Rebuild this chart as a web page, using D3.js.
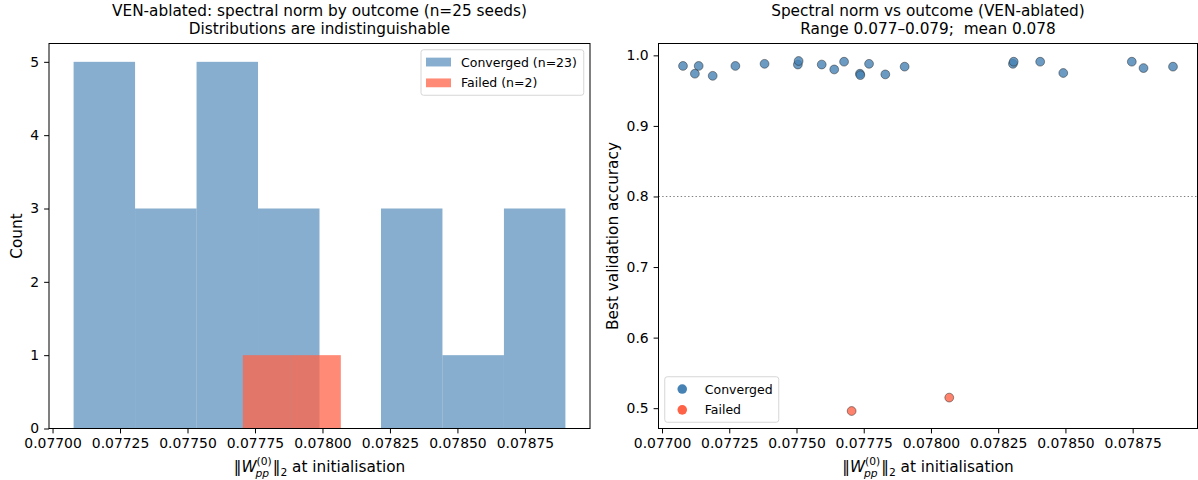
<!DOCTYPE html>
<html>
<head>
<meta charset="utf-8">
<script src="https://cdn.jsdelivr.net/npm/d3@7"></script>
<style>
  body { margin: 0; background: #fff; }
  text { font-family: "DejaVu Sans", sans-serif; fill: #000; }
</style>
</head>
<body>
<div id="chart"></div>
<script>
// 1. DATA
const convergedNorm = [0.077078, 0.0771222, 0.0771363, 0.0771884, 0.0772728, 0.0773812, 0.0775051, 0.0775079,
    0.0775938, 0.0776403, 0.0776769, 0.0777360, 0.0777374, 0.0777698, 0.0778303, 0.0779021,
    0.0783048, 0.0783076, 0.0784061, 0.0784920, 0.0787468, 0.0787904, 0.0789000];
const convergedAcc = [0.985, 0.974, 0.985, 0.971, 0.985, 0.988, 0.987, 0.992, 0.987, 0.980, 0.991, 0.974,
    0.972, 0.988, 0.973, 0.984, 0.988, 0.991, 0.991, 0.975, 0.991, 0.982, 0.984];
const failedNorm = [0.077705, 0.078068];
const failedAcc = [0.496, 0.515];

const xTicks = [0.07700, 0.07725, 0.07750, 0.07775, 0.07800, 0.07825, 0.07850, 0.07875];
const countTicks = [0, 1, 2, 3, 4, 5];
const accTicks = [0.5, 0.6, 0.7, 0.8, 0.9, 1.0];
const threshold = 0.8;
const convBins = 8;
const failBins = 2;

const W = 1198, H = 480;
const blue = "steelblue", red = "tomato";

const svg = d3.select("#chart").append("svg").attr("width", W).attr("height", H);

// shared x domain: full data extent + 5% padding (like matplotlib)
const allNorm = convergedNorm.concat(failedNorm);
const [lo, hi] = d3.extent(allNorm);
const pad = (hi - lo) * 0.05;
const xDomain = [lo - pad, hi + pad];

function makeBins(values, n) {
    const [a, b] = d3.extent(values);
    const edges = d3.range(1, n).map(i => a + i * (b - a) / n);
    return d3.bin().domain([a, b]).thresholds(edges)(values);
}

function drawFrame(g, x0, y0, x1, y1) {
    g.append("rect")
        .attr("x", x0).attr("y", y0)
        .attr("width", x1 - x0).attr("height", y1 - y0)
        .attr("fill", "none").attr("stroke", "#000").attr("stroke-width", 1);
}

function styleAxis(sel) {
    sel.select(".domain").remove();
    sel.selectAll(".tick line").attr("stroke", "#000").attr("stroke-width", 1);
    sel.selectAll(".tick text").style("font-size", "13.9px").attr("fill", "#000");
}

function drawTitle(cx, lines) {
    lines.forEach((t, i) => {
        svg.append("text")
            .attr("x", cx).attr("y", 16 + i * 18.3)
            .attr("text-anchor", "middle")
            .style("font-size", "15.3px")
            .style("white-space", "pre")
            .text(t);
    });
}

function drawYLabel(x, cy, label) {
    svg.append("text")
        .attr("transform", `translate(${x},${cy}) rotate(-90)`)
        .attr("text-anchor", "middle")
        .style("font-size", "15.3px")
        .text(label);
}

// ||W_pp^(0)||_2 at initialisation -- pieces placed side by side
function drawNormLabel(cx, y) {
    const fs = 15.3, small = fs * 0.7;
    const g = svg.append("g");
    const piece = (str, size, italic, dy) => g.append("text")
        .attr("y", y + dy)
        .style("font-size", size + "px")
        .style("font-style", italic ? "italic" : "normal")
        .style("white-space", "pre")
        .text(str);

    const head = piece("\u2016", fs, false, 0);
    const w = piece("W", fs, true, 0);
    const sup = piece("(0)", small, false, -7);
    const sub = piece("pp", small, true, 5);
    const bar = piece("\u2016", fs, false, 0);
    const two = piece("2", small, false, 3.5);
    const tail = piece(" at initialisation", fs, false, 0);

    const len = t => t.node().getComputedTextLength();
    let x = 0;
    head.attr("x", x); x += len(head);
    w.attr("x", x); x += len(w);
    sup.attr("x", x);
    sub.attr("x", x - 1);
    x += Math.max(len(sup), len(sub) - 1) + 1;
    bar.attr("x", x); x += len(bar);
    two.attr("x", x); x += len(two);
    tail.attr("x", x); x += len(tail);
    g.attr("transform", `translate(${cx - x / 2},0)`);
}

function drawLegend(x, y, w, items) {
    const lg = svg.append("g").attr("transform", `translate(${x},${y})`);
    lg.append("rect").attr("width", w).attr("height", 45.5).attr("rx", 2.5)
        .attr("fill", "#fff").attr("fill-opacity", 0.8)
        .attr("stroke", "#d6d6d6").attr("stroke-width", 1);
    items.forEach((it, i) => {
        const cy = 12.3 + i * 20.8;
        if (it.kind === "patch") {
            lg.append("rect").attr("x", 5).attr("y", cy - 4.4).attr("width", 25).attr("height", 8.8)
                .attr("fill", it.color).attr("fill-opacity", it.alpha);
        } else {
            lg.append("circle").attr("cx", 17.5).attr("cy", cy).attr("r", 4.8).attr("fill", it.color);
        }
        lg.append("text").attr("x", 40).attr("y", cy + 4.5)
            .style("font-size", "12.5px").text(it.label);
    });
}

// --- LEFT: histogram ---
const L = { x0: 49, x1: 590, y0: 43.5, y1: 428.5 };
const xL = d3.scaleLinear().domain(xDomain).range([L.x0, L.x1]);
const yL = d3.scaleLinear().domain([0, 5.25]).range([L.y1, L.y0]);
const gL = svg.append("g");

const convHist = makeBins(convergedNorm, convBins);
const failHist = makeBins(failedNorm, failBins);

gL.selectAll("rect.conv").data(convHist).join("rect")
    .attr("class", "conv")
    .attr("x", d => xL(d.x0)).attr("width", d => xL(d.x1) - xL(d.x0))
    .attr("y", d => yL(d.length)).attr("height", d => yL(0) - yL(d.length))
    .attr("fill", blue).attr("fill-opacity", 0.65);

gL.selectAll("rect.fail").data(failHist).join("rect")
    .attr("class", "fail")
    .attr("x", d => xL(d.x0)).attr("width", d => xL(d.x1) - xL(d.x0))
    .attr("y", d => yL(d.length)).attr("height", d => yL(0) - yL(d.length))
    .attr("fill", red).attr("fill-opacity", 0.75);

gL.append("g").attr("transform", `translate(0,${L.y1})`)
    .call(d3.axisBottom(xL).tickValues(xTicks).tickFormat(d3.format(".5f")).tickSize(4.9).tickPadding(4.6))
    .call(styleAxis);
gL.append("g").attr("transform", `translate(${L.x0},0)`)
    .call(d3.axisLeft(yL).tickValues(countTicks).tickFormat(d3.format("d")).tickSize(4.9).tickPadding(4.9))
    .call(styleAxis);
drawFrame(gL, L.x0, L.y0, L.x1, L.y1);

drawTitle((L.x0 + L.x1) / 2, [
    `VEN-ablated: spectral norm by outcome (n=${allNorm.length} seeds)`,
    "Distributions are indistinguishable"
]);
drawYLabel(22, (L.y0 + L.y1) / 2, "Count");
drawNormLabel((L.x0 + L.x1) / 2, 472);
drawLegend(421, 49.75, 162.75, [
    { kind: "patch", color: blue, alpha: 0.65, label: `Converged (n=${convergedNorm.length})` },
    { kind: "patch", color: red, alpha: 0.75, label: `Failed (n=${failedNorm.length})` }
]);

// --- RIGHT: scatter ---
const R = { x0: 658.5, x1: 1197.5, y0: 43.5, y1: 428.5 };
const allAcc = convergedAcc.concat(failedAcc);
const [aLo, aHi] = d3.extent(allAcc);
const aPad = (aHi - aLo) * 0.05;
const xR = d3.scaleLinear().domain(xDomain).range([R.x0, R.x1]);
const yR = d3.scaleLinear().domain([aLo - aPad, aHi + aPad]).range([R.y1, R.y0]);
const gR = svg.append("g");

gR.append("line")
    .attr("x1", R.x0).attr("x2", R.x1)
    .attr("y1", yR(threshold)).attr("y2", yR(threshold))
    .attr("stroke", "gray").attr("stroke-width", 1.2).attr("stroke-dasharray", "1.4,2.3");

const pts = convergedNorm.map((v, i) => ({ x: v, y: convergedAcc[i], c: blue }))
    .concat(failedNorm.map((v, i) => ({ x: v, y: failedAcc[i], c: red })));

gR.selectAll("circle.pt").data(pts).join("circle")
    .attr("class", "pt")
    .attr("cx", d => xR(d.x)).attr("cy", d => yR(d.y)).attr("r", 4.4)
    .attr("fill", d => d.c).attr("fill-opacity", 0.8)
    .attr("stroke", "#222").attr("stroke-opacity", 0.8).attr("stroke-width", 0.6);

gR.append("g").attr("transform", `translate(0,${R.y1})`)
    .call(d3.axisBottom(xR).tickValues(xTicks).tickFormat(d3.format(".5f")).tickSize(4.9).tickPadding(4.6))
    .call(styleAxis);
gR.append("g").attr("transform", `translate(${R.x0},0)`)
    .call(d3.axisLeft(yR).tickValues(accTicks).tickFormat(d3.format(".1f")).tickSize(4.9).tickPadding(4.9))
    .call(styleAxis);
drawFrame(gR, R.x0, R.y0, R.x1, R.y1);

const f3 = d3.format(".3f");
drawTitle((R.x0 + R.x1) / 2, [
    "Spectral norm vs outcome (VEN-ablated)",
    `Range ${f3(lo)}\u2013${f3(hi)};  mean ${f3(d3.mean(allNorm))}`
]);
drawYLabel(617.5, (R.y0 + R.y1) / 2, "Best validation accuracy");
drawNormLabel((R.x0 + R.x1) / 2, 472);
drawLegend(R.x0 + 6.25, R.y1 - 6.25 - 45.5, 114, [
    { kind: "dot", color: blue, label: "Converged" },
    { kind: "dot", color: red, label: "Failed" }
]);
</script>
</body>
</html>
